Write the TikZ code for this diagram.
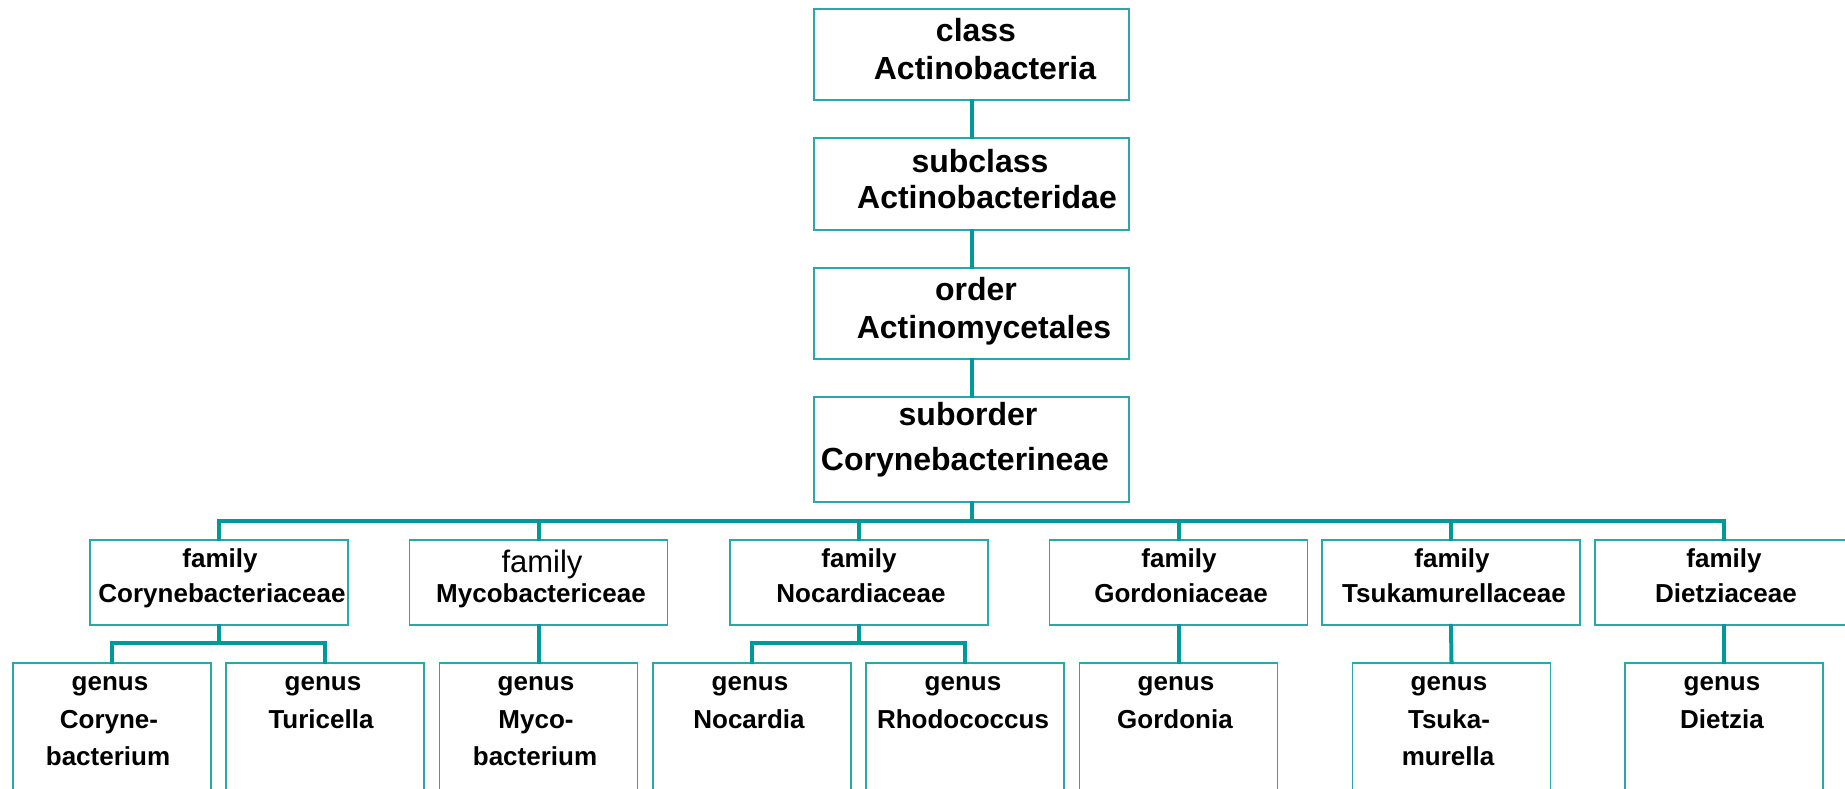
\documentclass[tikz,border=0pt]{standalone}
\usepackage{fontspec}
\setmainfont{Liberation Sans}
\definecolor{boxc}{RGB}{40,168,168}
\definecolor{connc}{RGB}{0,153,153}
\tikzset{
  x=1pt, y=-1pt,
  tbox/.style={draw=boxc, line width=1.6pt, rectangle, inner sep=0pt, fill=white},
  topbox/.style={tbox, minimum width=315pt},
  fambox/.style={tbox, minimum width=258pt, minimum height=85pt},
  genbox/.style={tbox, minimum width=198pt, minimum height=152pt},
  conn/.style={draw=connc, line width=4pt, line cap=rect},
  ttop/.style={anchor=base, inner sep=0pt, font=\fontsize{32}{38}\selectfont\bfseries},
  tfam/.style={anchor=base, inner sep=0pt, font=\fontsize{26}{31}\selectfont\bfseries},
  tfamr/.style={anchor=base, inner sep=0pt, font=\fontsize{31}{36}\selectfont},
  tgen/.style={anchor=base, inner sep=0pt, font=\fontsize{26}{31}\selectfont\bfseries},
}
\begin{document}
\begin{tikzpicture}
\useasboundingbox (0,0) rectangle (1845,789);
\fill[white] (0,0) rectangle (1845,789);
\clip (0,0) rectangle (1845,789);
\coordinate (busy) at (0,521);
\coordinate (sby) at (0,643);

% top chain
\node[topbox, minimum height=91pt] (cls) at (971.5,54.5) {};
\node[topbox, minimum height=92pt] (scls) at (971.5,184) {};
\node[topbox, minimum height=91pt] (ord) at (971.5,313.5) {};
\node[topbox, minimum height=105pt] (sub) at (971.5,449.5) {};

% families
\node[fambox] (f1) at (219,582.5) {};
\node[fambox] (f2) at (538.5,582.5) {};
\node[fambox] (f3) at (859,582.5) {};
\node[fambox] (f4) at (1178.5,582.5) {};
\node[fambox] (f5) at (1451,582.5) {};
\node[fambox] (f6) at (1724,582.5) {};

% genera
\node[genbox] (g1) at (112,739) {};
\node[genbox] (g2) at (325,739) {};
\node[genbox] (g3) at (538.5,739) {};
\node[genbox] (g4) at (752,739) {};
\node[genbox] (g5) at (965,739) {};
\node[genbox] (g6) at (1178.5,739) {};
\node[genbox] (g7) at (1451.5,739) {};
\node[genbox] (g8) at (1724,739) {};

% connectors
\draw[conn] (cls.south) -- (scls.north);
\draw[conn] (scls.south) -- (ord.north);
\draw[conn] (ord.south) -- (sub.north);
\draw[conn] (sub.south) -- (sub.south |- busy);
\draw[conn] (f1.north) -- (f1.north |- busy) -- (f6.north |- busy) -- (f6.north);
\draw[conn] (f2.north) -- (f2.north |- busy);
\draw[conn] (f3.north) -- (f3.north |- busy);
\draw[conn] (f4.north) -- (f4.north |- busy);
\draw[conn] (f5.north) -- (f5.north |- busy);
\draw[conn] (f1.south) -- (f1.south |- sby);
\draw[conn] (g1.north) -- (g1.north |- sby) -- (g2.north |- sby) -- (g2.north);
\draw[conn] (f3.south) -- (f3.south |- sby);
\draw[conn] (g4.north) -- (g4.north |- sby) -- (g5.north |- sby) -- (g5.north);
\draw[conn] (f2.south) -- (g3.north);
\draw[conn] (f4.south) -- (g6.north);
\draw[conn] (f5.south) -- (g7.north);
\draw[conn] (f6.south) -- (g8.north);

% top texts
\node[ttop] (t1a) at (976,42) {class};
\node[ttop] (t1b) at (985,80) {Actinobacteria};
\node[ttop] (t2a) at (980,172) {subclass};
\node[ttop] (t2b) at (987,208) {Actinobacteridae};
\node[ttop] (t3a) at (976,300) {order};
\node[ttop] (t3b) at (984,338) {Actinomycetales};
\node[ttop] (t4a) at (968,425) {suborder};
\node[ttop] (t4b) at (965,470) {Corynebacterineae};

% family texts
\node[tfam] (fa1) at (220,567) {family};
\node[tfam] (fb1) at (222,602) {Corynebacteriaceae};
\node[tfamr] (fa2) at (542,572) {family};
\node[tfam] (fb2) at (541,602) {Mycobactericeae};
\node[tfam] (fa3) at (859,567) {family};
\node[tfam] (fb3) at (861,602) {Nocardiaceae};
\node[tfam] (fa4) at (1179,567) {family};
\node[tfam] (fb4) at (1181,602) {Gordoniaceae};
\node[tfam] (fa5) at (1452,567) {family};
\node[tfam] (fb5) at (1454,602) {Tsukamurellaceae};
\node[tfam] (fa6) at (1724,567) {family};
\node[tfam] (fb6) at (1726,602) {Dietziaceae};

% genus texts
\node[tgen] (ga1) at (110,690) {genus};
\node[tgen] (gb1) at (109,728) {Coryne-};
\node[tgen] (gc1) at (108,765) {bacterium};
\node[tgen] (ga2) at (323,690) {genus};
\node[tgen] (gb2) at (321,728) {Turicella};
\node[tgen] (ga3) at (536,690) {genus};
\node[tgen] (gb3) at (536,728) {Myco-};
\node[tgen] (gc3) at (535,765) {bacterium};
\node[tgen] (ga4) at (750,690) {genus};
\node[tgen] (gb4) at (749,728) {Nocardia};
\node[tgen] (ga5) at (963,690) {genus};
\node[tgen] (gb5) at (963,728) {Rhodococcus};
\node[tgen] (ga6) at (1176,690) {genus};
\node[tgen] (gb6) at (1175,728) {Gordonia};
\node[tgen] (ga7) at (1449,690) {genus};
\node[tgen] (gb7) at (1449,728) {Tsuka-};
\node[tgen] (gc7) at (1448,765) {murella};
\node[tgen] (ga8) at (1722,690) {genus};
\node[tgen] (gb8) at (1722,728) {Dietzia};
\end{tikzpicture}
\end{document}
